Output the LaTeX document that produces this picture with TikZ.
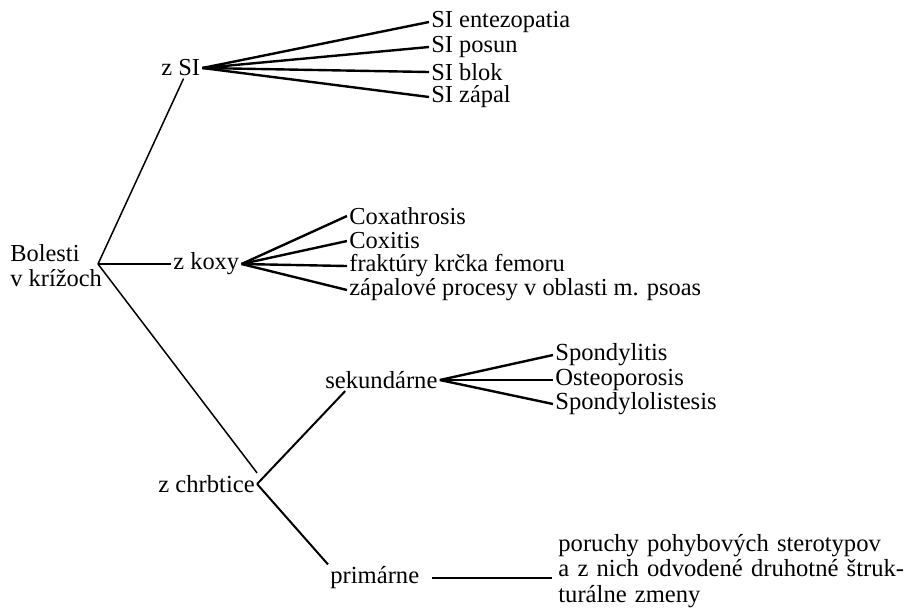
\documentclass[tikz,border=0pt]{standalone}
\usepackage{fontspec}
\setmainfont{Liberation Serif}
\newcommand{\uptxt}{\fontsize{12.2}{12.5}\selectfont}
\newcommand{\lotxt}{\fontsize{12.3}{12.75}\selectfont}

\begin{document}
\begin{tikzpicture}[x=0.5pt,y=-0.5pt,
    txt/.style={inner sep=1pt,font=\uptxt},
    leaf/.style={txt,anchor=west},
    lowleaf/.style={leaf,font=\lotxt},
    fan/.style={line width=1.2pt},
    stem/.style={line width=0.75pt}]
       \useasboundingbox (0,0) rectangle (909,607);
       \node[txt,anchor=west,align=left] (bol) at (8,266) {Bolesti\\v krížoch};
       \coordinate (rj) at (98,264);
       \node[txt,anchor=west] (zsi)   at (159,68)  {z SI};
       \node[txt,anchor=west] (zkoxy) at (171,264) {z koxy};
       \node[txt,anchor=west,font=\lotxt] (zchr) at (156,484) {z chrbtice};
       \node[txt,anchor=west,font=\lotxt] (sek)  at (323,380) {sekundárne};
       \node[txt,anchor=west,font=\lotxt] (prim) at (328,578) {primárne};

       \node[leaf] (sient)  at (429,22) {SI entezopatia};
       \node[leaf] (sipos)  at (429,47) {SI posun};
       \node[leaf] (siblok) at (429,72) {SI blok};
       \node[leaf] (sizap)  at (429,97) {SI zápal};

       \node[leaf] (coxa) at (347,216) {Coxathrosis};
       \node[leaf] (coxi) at (347,241) {Coxitis};
       \node[leaf] (frak) at (347,266) {fraktúry krčka femoru};
       \node[leaf] (zapa) at (347,290) {zápalové procesy v oblasti m. psoas};

       \node[lowleaf] (spit)  at (553,355) {Spondylitis};
       \node[lowleaf] (osteo) at (553,380) {Osteoporosis};
       \node[lowleaf] (spol)  at (553,404) {Spondylolistesis};

       \node[txt,anchor=west,font=\lotxt,text width=172pt,align=left] (poru) at (556,571)
          {\makebox[172pt][s]{poruchy pohybových sterotypov}\\
           \makebox[172pt][s]{a z nich odvodené druhotné štruk-}\\
           turálne zmeny};

       \draw[stem] (rj) -- (zsi.-75);
       \draw[stem] (rj) -- (zkoxy.west);
       \draw[stem] (rj) -- (zchr.north east);
       \foreach \n in {sient,sipos,siblok,sizap} \draw[fan] (zsi.east) -- (\n.west);
       \foreach \n in {coxa,coxi,frak,zapa} \draw[fan] (zkoxy.east) -- (\n.west);
       \foreach \n in {spit,osteo,spol} \draw[fan] (sek.east) -- (\n.west);
       \draw[stem,line width=1pt] (zchr.east) -- (sek.197);
       \draw[stem,line width=1pt] (zchr.east) -- (prim.north west);
       \draw[stem,shorten <=5pt,shorten >=2pt] (prim.east) -- (prim.east -| poru.west);
\end{tikzpicture}
\end{document}
